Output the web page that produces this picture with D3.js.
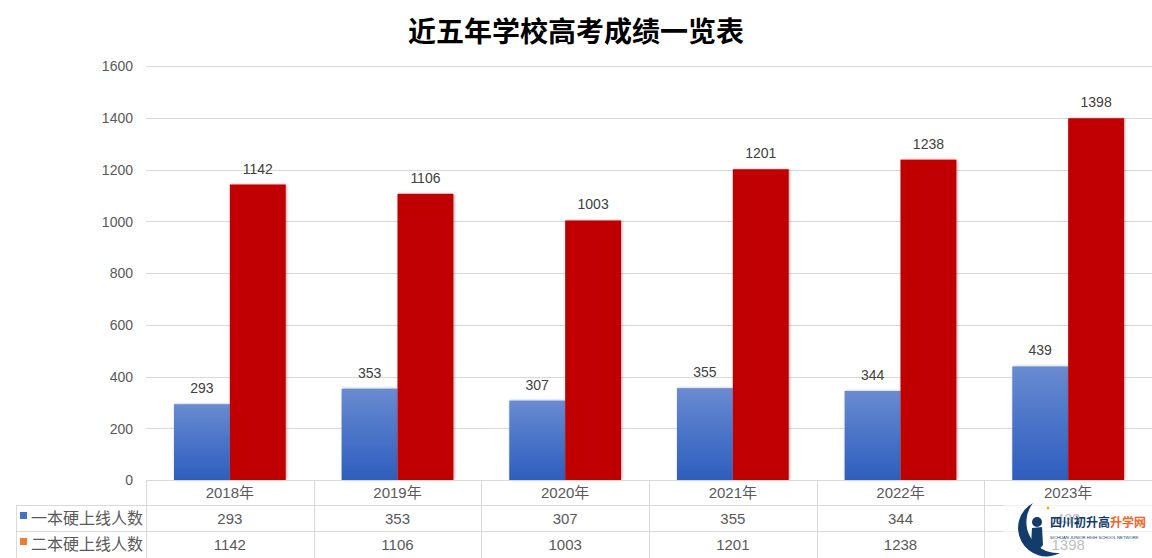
<!DOCTYPE html>
<html><head><meta charset="utf-8">
<script src="https://cdn.jsdelivr.net/npm/d3@7/dist/d3.min.js"></script>
<style>body{margin:0;background:#fff}svg{display:block}</style>
</head><body>
<svg id="c" width="1152" height="558"></svg>
<script>
const categories = ["2018年","2019年","2020年","2021年","2022年","2023年"];
const seriesNames = ["一本硬上线人数","二本硬上线人数"];
const series1 = [293,353,307,355,344,439];
const series2 = [1142,1106,1003,1201,1238,1398];
const yTicks = [0,200,400,600,800,1000,1200,1400,1600];
const title = "近五年学校高考成绩一览表";

(function(){
const svg = d3.select("#c");
const W = 1152, H = 558;
const pL = 146, pR = 1152, pT = 66, pB = 480;
const font = "'Liberation Sans','Noto Sans CJK SC',sans-serif";
const cjk = "'Noto Sans CJK SC',sans-serif";

const defs = svg.append("defs");
const g1 = defs.append("linearGradient").attr("id","gb").attr("x1",0).attr("y1",0).attr("x2",0).attr("y2",1);
g1.append("stop").attr("offset","0%").attr("stop-color","#6a8bd0");
g1.append("stop").attr("offset","50%").attr("stop-color","#4a74c8");
g1.append("stop").attr("offset","100%").attr("stop-color","#2e5ebd");
const f = defs.append("filter").attr("id","sh").attr("x","-20%").attr("y","-5%").attr("width","140%").attr("height","110%");
f.append("feDropShadow").attr("dx",1).attr("dy",0).attr("stdDeviation",1.5).attr("flood-color","#000").attr("flood-opacity",0.3);

const x = d3.scaleBand().domain(categories).range([pL,pR]).paddingInner(0).paddingOuter(0);
const inner = d3.scaleBand().domain([0,1]).range([0,x.bandwidth()]).paddingOuter(0.5).paddingInner(0);
const y = d3.scaleLinear().domain([0,1600]).range([pB,pT]);

svg.append("text").attr("x",576).attr("y",42).attr("text-anchor","middle")
  .attr("font-family",cjk).attr("font-weight","bold").attr("font-size",28).attr("fill","#000").text(title);

// grid
svg.append("g").selectAll("line").data(yTicks.filter(d=>d>0)).join("line")
  .attr("x1",pL).attr("x2",pR).attr("y1",d=>Math.round(y(d))+0.5).attr("y2",d=>Math.round(y(d))+0.5)
  .attr("stroke","#d9d9d9").attr("stroke-width",1);

// y axis labels
const yAxis = d3.axisLeft(y).tickValues(yTicks).tickFormat(d3.format("d")).tickSize(0).tickPadding(0);
const ya = svg.append("g").attr("transform",`translate(${pL-13},0)`).call(yAxis);
ya.select(".domain").remove();
ya.selectAll("text").attr("font-family",font).attr("font-size",14).attr("fill","#595959").attr("dy","0.35em");

// bars
const data = categories.map((c,i)=>({c, v:[series1[i],series2[i]]}));
const bg = svg.append("g");
data.forEach(d=>{
  d.v.forEach((v,k)=>{
    bg.append("rect").attr("x",x(d.c)+inner(k)).attr("width",inner.bandwidth())
      .attr("y",y(v)).attr("height",y(0)-y(v))
      .attr("fill",k===0?"url(#gb)":"#c00000").attr("filter","url(#sh)");
  });
});
data.forEach(d=>{
  d.v.forEach((v,k)=>{
    svg.append("text").attr("x",x(d.c)+inner(k)+inner.bandwidth()/2).attr("y",y(v)-11)
      .attr("text-anchor","middle").attr("font-family",font).attr("font-size",14).attr("fill","#404040").text(v);
  });
});

// data table
const tg = svg.append("g").attr("stroke","#d9d9d9").attr("stroke-width",1);
tg.append("line").attr("x1",pL).attr("x2",pR).attr("y1",480.5).attr("y2",480.5);
tg.append("line").attr("x1",16).attr("x2",pR).attr("y1",505.5).attr("y2",505.5);
tg.append("line").attr("x1",16).attr("x2",pR).attr("y1",531.5).attr("y2",531.5);
tg.append("line").attr("x1",16.5).attr("x2",16.5).attr("y1",505).attr("y2",H);
categories.forEach(c=>{
  tg.append("line").attr("x1",Math.round(x(c))+0.5).attr("x2",Math.round(x(c))+0.5).attr("y1",480).attr("y2",H);
});
const tt = svg.append("g").attr("font-family",font).attr("font-size",15).attr("fill","#595959").attr("text-anchor","middle");
categories.forEach((c,i)=>{
  const cx = x(c)+x.bandwidth()/2;
  tt.append("text").attr("x",cx).attr("y",498).text(c);
  tt.append("text").attr("x",cx).attr("y",524).text(series1[i]);
  tt.append("text").attr("x",cx).attr("y",550).text(series2[i]);
});
const legendColors = ["#4472c4","#ed7d31"];
seriesNames.forEach((n,i)=>{
  const yy = [518,544][i];
  svg.append("rect").attr("x",20).attr("y",yy-6).attr("width",7).attr("height",7).attr("fill",legendColors[i]);
  svg.append("text").attr("x",31).attr("y",yy+6).attr("font-family",cjk).attr("font-size",16).attr("fill","#595959").text(n);
});

// watermark logo
const wm = svg.append("g");
wm.append("rect").attr("x",1003).attr("y",505).attr("width",149).attr("height",53).attr("fill","#fff").attr("opacity",0.6);
wm.append("path").attr("d","M1033,503 A28,28 0 1,0 1060,553 A31,31 0 0,1 1033,503 Z").attr("fill","#143c6b");
wm.append("circle").attr("cx",1037).attr("cy",522).attr("r",5).attr("fill","#143c6b");
wm.append("path").attr("d","M1032,528 L1042,527 L1043,545 L1036,553 L1031,545 Z").attr("fill","#143c6b");
wm.append("circle").attr("cx",1048).attr("cy",508).attr("r",1.5).attr("fill","#f5a623");
wm.append("text").attr("x",1050).attr("y",527).attr("font-family",cjk).attr("font-weight","bold").attr("font-size",12)
  .attr("fill","#143c6b").text("四川初升高").append("tspan").attr("fill","#f26522").text("升学网");
wm.append("text").attr("x",1050).attr("y",539).attr("font-family",font).attr("font-size",4.2).attr("fill","#143c6b")
  .text("SICHUAN JUNIOR HIGH SCHOOL NETWORK");
})();
</script>
</body></html>
